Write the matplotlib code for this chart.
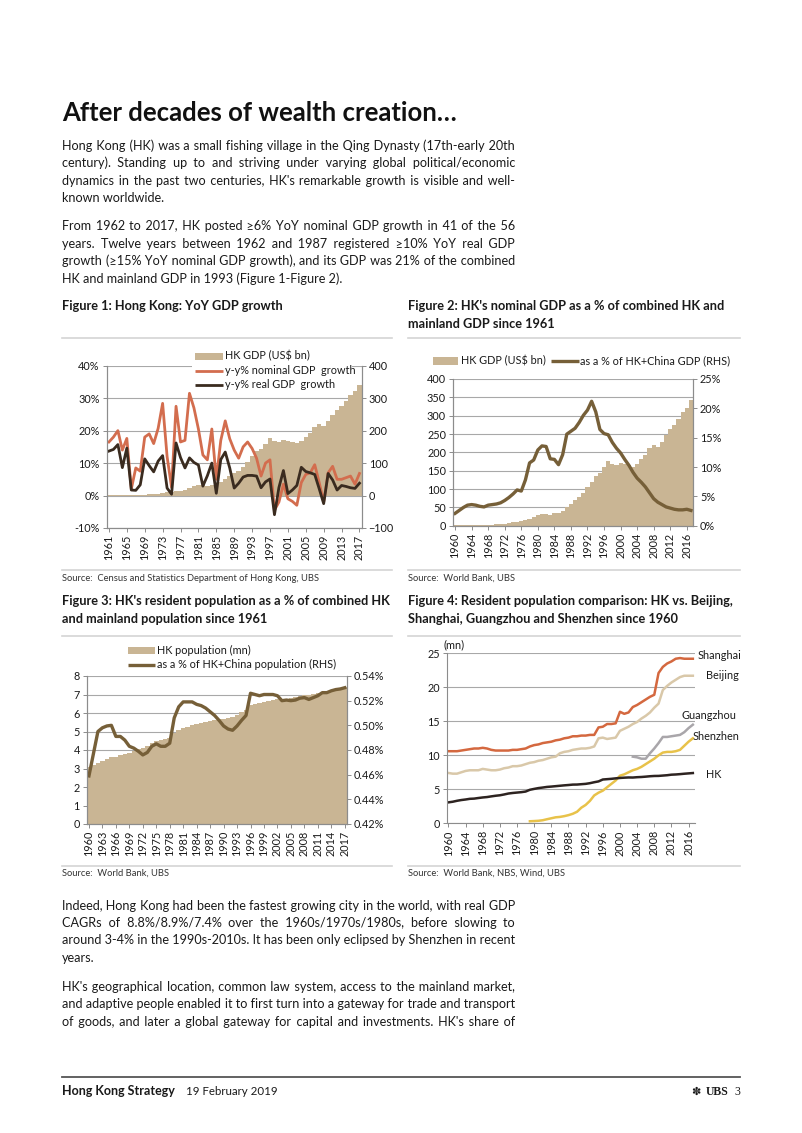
import matplotlib
matplotlib.use('Agg')
import matplotlib.pyplot as plt
from matplotlib.lines import Line2D
from matplotlib.patches import Rectangle
from matplotlib.ticker import FuncFormatter

nan = float('nan')

# ---------------- data ----------------
years = list(range(1960, 2018))
years_growth = list(range(1961, 2018))

hk_gdp_bn = [1.3, 1.3, 1.4, 1.7, 1.9, 2.2, 2.3, 2.4, 2.5, 2.9,
             3.8, 4.5, 5.7, 8.0, 9.5, 10.1, 12.9, 15.5, 18.1, 22.5,
             28.9, 31.0, 32.9, 29.9, 33.5, 35.7, 41.1, 50.6, 59.7, 68.8,
             76.9, 88.9, 104.3, 120.4, 135.8, 144.7, 159.7, 177.4, 168.9, 165.8,
             171.7, 169.4, 166.3, 161.4, 169.1, 181.6, 193.5, 211.6, 219.3, 214.0,
             228.6, 248.5, 262.6, 275.7, 291.5, 309.4, 320.9, 341.4]

nominal_growth = [16.5, 18.0, 20.0, 14.0, 17.6, 2.0, 8.5, 7.5, 18.0, 19.0,
                  16.0, 20.7, 28.4, 12.0, 2.5, 27.5, 16.5, 17.0, 31.5, 27.0,
                  20.5, 12.5, 11.0, 20.5, 5.0, 17.0, 23.0, 17.5, 14.0, 11.5,
                  15.0, 16.5, 14.5, 11.5, 6.0, 10.0, 11.0, -4.5, -2.0, 3.5,
                  -1.0, -1.8, -3.0, 4.0, 6.5, 7.0, 9.5, 4.0, -2.0, 7.0,
                  9.0, 5.0, 5.0, 5.5, 6.0, 3.5, 6.8]

real_growth = [13.7, 14.2, 15.7, 8.6, 14.6, 1.7, 1.6, 3.3, 11.3, 9.2,
               7.3, 10.6, 12.3, 2.3, 0.4, 16.2, 11.7, 8.5, 11.6, 10.2,
               9.4, 2.9, 6.1, 10.0, 0.7, 11.1, 13.4, 8.5, 2.3, 3.8,
               5.7, 6.2, 6.2, 6.0, 2.4, 4.2, 5.1, -5.9, 2.5, 7.7,
               0.6, 1.7, 3.1, 8.7, 7.4, 7.0, 6.5, 2.1, -2.5, 6.8,
               4.8, 1.7, 3.1, 2.8, 2.4, 2.2, 3.8]

gdp_share_pct = [2.1, 2.6, 3.1, 3.5, 3.6, 3.5, 3.3, 3.2, 3.5, 3.6,
                 3.7, 3.9, 4.3, 4.8, 5.4, 6.1, 5.9, 7.8, 10.7, 11.2,
                 12.9, 13.6, 13.5, 11.4, 11.3, 10.4, 12.1, 15.6, 16.1, 16.6,
                 17.6, 18.8, 19.7, 21.2, 19.4, 16.4, 15.7, 15.5, 14.2, 13.2,
                 12.4, 11.3, 10.3, 9.1, 8.1, 7.4, 6.6, 5.6, 4.6, 4.0,
                 3.6, 3.2, 3.0, 2.8, 2.7, 2.7, 2.8, 2.6]

hk_pop_mn = [3.08, 3.17, 3.31, 3.42, 3.50, 3.60, 3.63, 3.72, 3.80, 3.86,
             3.96, 4.05, 4.12, 4.24, 4.38, 4.46, 4.52, 4.58, 4.67, 4.93,
             5.06, 5.18, 5.26, 5.35, 5.40, 5.46, 5.52, 5.58, 5.63, 5.69,
             5.70, 5.75, 5.80, 5.90, 6.04, 6.16, 6.44, 6.49, 6.54, 6.61,
             6.67, 6.71, 6.74, 6.73, 6.78, 6.81, 6.86, 6.92, 6.96, 6.97,
             7.02, 7.07, 7.15, 7.18, 7.23, 7.29, 7.34, 7.39]

pop_share_pct = [0.459, 0.477, 0.495, 0.498, 0.4995, 0.500, 0.491, 0.491, 0.488, 0.483,
                 0.4815, 0.479, 0.476, 0.478, 0.483, 0.485, 0.483, 0.483, 0.4855, 0.506,
                 0.515, 0.519, 0.519, 0.519, 0.517, 0.516, 0.514, 0.511, 0.508, 0.504,
                 0.4995, 0.497, 0.496, 0.4995, 0.504, 0.508, 0.526, 0.525, 0.524, 0.525,
                 0.525, 0.525, 0.524, 0.520, 0.5205, 0.520, 0.5205, 0.522, 0.5225, 0.521,
                 0.5225, 0.524, 0.5265, 0.5265, 0.528, 0.529, 0.5295, 0.5305]

shanghai = [10.6, 10.6, 10.6, 10.7, 10.8, 10.9, 11.0, 11.0, 11.1, 11.0,
            10.8, 10.7, 10.7, 10.7, 10.7, 10.8, 10.8, 10.9, 11.0, 11.3,
            11.5, 11.6, 11.8, 11.9, 12.0, 12.2, 12.3, 12.5, 12.6, 12.8,
            12.8, 12.9, 12.9, 13.0, 13.0, 14.1, 14.2, 14.6, 14.6, 14.7,
            16.4, 16.1, 16.3, 17.1, 17.4, 17.8, 18.2, 18.6, 18.9, 22.1,
            23.0, 23.5, 23.8, 24.2, 24.3, 24.2, 24.2, 24.2]
beijing = [7.4, 7.3, 7.3, 7.5, 7.7, 7.8, 7.8, 7.8, 8.0, 7.9,
           7.8, 7.8, 7.9, 8.1, 8.2, 8.4, 8.4, 8.5, 8.7, 8.9,
           9.0, 9.2, 9.3, 9.5, 9.7, 9.8, 10.3, 10.5, 10.6, 10.8,
           10.9, 11.0, 11.0, 11.1, 11.3, 12.5, 12.6, 12.4, 12.5, 12.6,
           13.6, 13.9, 14.2, 14.6, 14.9, 15.4, 15.8, 16.3, 17.0, 17.6,
           19.6, 20.2, 20.7, 21.1, 21.5, 21.7, 21.7, 21.7]
guangzhou = [nan] * 43 + [9.8, 9.7, 9.5, 9.5, 10.3, 11.0, 11.8,
                          12.7, 12.7, 12.8, 12.9, 13.0, 13.4, 14.0, 14.5]
shenzhen = [nan] * 19 + [0.3,
            0.33, 0.37, 0.45, 0.6, 0.74, 0.88, 0.94, 1.05, 1.2, 1.4,
            1.7, 2.3, 2.7, 3.3, 4.1, 4.5, 4.8, 5.3, 5.8, 6.3,
            7.0, 7.2, 7.5, 7.8, 8.0, 8.3, 8.7, 9.1, 9.5, 10.0,
            10.4, 10.5, 10.5, 10.6, 10.8, 11.4, 12.0, 12.5]

# ---------------- style ----------------
W, H = 802, 1133
plt.rcParams['font.family'] = ['Lato', 'DejaVu Sans']
TAN = '#C9B594'
ORANGE = '#D36D4E'
DARK = '#3A2B1F'
OLIVE = '#765F38'
GRID = '#A8A8A8'
SPINE = '#8C8C8C'
TEXT = '#1A1A1A'
SEP = '#D4D4D4'
TICK = 7.8

fig = plt.figure(figsize=(W / 100, H / 100), dpi=100)
renderer = fig.canvas.get_renderer()


def fx(x):
    return x / W


def fy(y):
    return 1 - y / H


def rect(l, t, r, b):
    return [fx(l), fy(b), (r - l) / W, (b - t) / H]


def text_w(s, size, weight='normal'):
    t = fig.text(0, 0, s, fontsize=size, fontweight=weight)
    w = t.get_window_extent(renderer).width
    t.remove()
    return w


def fit_size(s, target, weight='normal'):
    return 10 * target / text_w(s, 10, weight)


def put(x, y, s, size, weight='normal', color=TEXT, ha='left', va='baseline', **kw):
    return fig.text(fx(x), fy(y), s, fontsize=size, fontweight=weight,
                    color=color, ha=ha, va=va, **kw)


HS = '\u200a'


def justify(line, x0, x1, y, size, last=False):
    if last:
        put(x0, y, line, size)
        return
    hs_w = (text_w('a' + HS * 20 + 'a', size) - text_w('aa', size)) / 20
    words = line.split(' ')
    n = len(words) - 1
    per = (x1 - x0 - text_w(line, size)) / n
    out = words[0]
    placed = 0
    for i in range(1, n + 1):
        k = int(round(per * i / hs_w)) - placed if hs_w > 0.05 else 0
        k = max(k, 0)
        placed += k
        out += ' ' + HS * k + words[i]
    put(x0, y, out, size)


def hline(x0, x1, y, color=SEP, lw=1.2):
    fig.add_artist(Line2D([fx(x0), fx(x1)], [fy(y), fy(y)], color=color, lw=lw,
                          transform=fig.transFigure))


def leg_patch(x0, x1, y, color):
    fig.add_artist(Rectangle((fx(x0), fy(y + 3.5)), (x1 - x0) / W, 7 / H,
                             facecolor=color, edgecolor='none',
                             transform=fig.transFigure, zorder=3))


def leg_line(x0, x1, y, color, lw):
    fig.add_artist(Line2D([fx(x0), fx(x1)], [fy(y), fy(y)], color=color, lw=lw,
                          transform=fig.transFigure, zorder=3, solid_capstyle='butt'))


def style(ax, right=True):
    for side in ['left', 'right', 'bottom']:
        ax.spines[side].set_color(SPINE)
        ax.spines[side].set_linewidth(0.8)
    ax.spines['top'].set_visible(False)
    if not right:
        ax.spines['right'].set_visible(False)
    ax.tick_params(labelsize=TICK, colors=TEXT, length=3, width=0.7, color=SPINE, pad=2)


# ---------------- page text ----------------
L, R = 62, 515
title = "After decades of wealth creation\u2026"
put(L, 121, title, fit_size(title, 396, 'bold'), weight='bold', color='#111111')

body_size = fit_size("and adaptive people enabled it to first turn into a gateway for trade and transport", 452)

p1 = ["Hong Kong (HK) was a small fishing village in the Qing Dynasty (17th-early 20th",
      "century). Standing up to and striving under varying global political/economic",
      "dynamics in the past two centuries, HK's remarkable growth is visible and well-",
      "known worldwide."]
p2 = ["From 1962 to 2017, HK posted \u22656% YoY nominal GDP growth in 41 of the 56",
      "years. Twelve years between 1962 and 1987 registered \u226510% YoY real GDP",
      "growth (\u226515% YoY nominal GDP growth), and its GDP was 21% of the combined",
      "HK and mainland GDP in 1993 (Figure 1-Figure 2)."]
p3 = ["Indeed, Hong Kong had been the fastest growing city in the world, with real GDP",
      "CAGRs of 8.8%/8.9%/7.4% over the 1960s/1970s/1980s, before slowing to",
      "around 3-4% in the 1990s-2010s. It has been only eclipsed by Shenzhen in recent",
      "years."]
p4 = ["HK's geographical location, common law system, access to the mainland market,",
      "and adaptive people enabled it to first turn into a gateway for trade and transport",
      "of goods, and later a global gateway for capital and investments. HK's share of"]

for lines, y0, last_left in [(p1, 150, True), (p2, 230.5, True), (p3, 909.5, True), (p4, 991, False)]:
    for i, ln in enumerate(lines):
        justify(ln, L, R, y0 + i * 17.4, body_size,
                last=(last_left and i == len(lines) - 1))

# figure titles
fsz = fit_size("Figure 3: HK's resident population as a % of combined HK", 329, 'bold')
put(62, 310, "Figure 1: Hong Kong: YoY GDP growth", fsz, 'bold')
put(408, 310, "Figure 2: HK's nominal GDP as a % of combined HK and", fsz, 'bold')
put(408, 328, "mainland GDP since 1961", fsz, 'bold')
put(62, 605, "Figure 3: HK's resident population as a % of combined HK", fsz, 'bold')
put(62, 623, "and mainland population since 1961", fsz, 'bold')
put(408, 605, "Figure 4: Resident population comparison: HK vs. Beijing,", fsz, 'bold')
put(408, 623, "Shanghai, Guangzhou and Shenzhen since 1960", fsz, 'bold')

hline(62, 392, 338); hline(408, 740, 338)
hline(62, 392, 570); hline(408, 740, 570)
hline(62, 392, 636); hline(408, 740, 636)
hline(62, 392, 866); hline(408, 740, 866)

ssz = fit_size("Source:  Census and Statistics Department of Hong Kong, UBS", 256)
put(62, 581, "Source:  Census and Statistics Department of Hong Kong, UBS", ssz, color='#333333')
put(408, 581, "Source:  World Bank, UBS", ssz, color='#333333')
put(62, 876, "Source:  World Bank, UBS", ssz, color='#333333')
put(408, 876, "Source:  World Bank, NBS, Wind, UBS", ssz, color='#333333')

# footer
hline(62, 740, 1077, color='#555555', lw=1.3)
put(62, 1095, "Hong Kong Strategy", fit_size("Hong Kong Strategy", 113, 'bold'), 'bold')
put(186, 1095, "19 February 2019", fit_size("19 February 2019", 91))
put(740, 1095, "3", 8.5, family=['Liberation Serif'], ha='right')
put(728, 1095, "UBS", 8.5, 'bold', family=['Liberation Serif'], ha='right')
put(701, 1095, "\u273D", 8, family=['DejaVu Sans'], ha='right')

pct0 = FuncFormatter(lambda v, p: f"{v:.0f}%")

# ---------------- Figure 1 ----------------
ax1 = fig.add_axes(rect(106.7, 365.7, 361.7, 528))
ax1.bar(years_growth, hk_gdp_bn[1:], width=1.0, color=TAN, linewidth=0)
ax1.set_ylim(-100, 400)
ax1.set_xlim(1960.5, 2017.5)
ax1.set_yticks(range(-100, 401, 100))
ax1.grid(axis='y', color=GRID, lw=0.8)
ax1.set_axisbelow(True)
ax1.set_xticks(range(1961, 2018, 4))
ax1.set_xticklabels([str(y) for y in range(1961, 2018, 4)], rotation=90)
ax1b = ax1.twinx()
ax1b.plot(years_growth, nominal_growth, color=ORANGE, lw=2.0)
ax1b.plot(years_growth, real_growth, color=DARK, lw=2.0)
ax1b.set_ylim(-10, 40)
ax1b.set_yticks(range(-10, 41, 10))
ax1b.yaxis.set_major_formatter(pct0)
ax1.yaxis.tick_right()
ax1b.yaxis.tick_left()
style(ax1); style(ax1b)

fig.add_artist(Rectangle((fx(192), fy(392)), 160 / W, 45 / H, facecolor='white',
                         edgecolor='none', transform=fig.transFigure, zorder=2))
leg_patch(195, 223, 356, TAN)
put(225, 356, "HK GDP (US$ bn)", TICK, va='center', zorder=4)
leg_line(195, 223, 370.5, ORANGE, 2.0)
put(225, 370.5, "y-y% nominal GDP  growth", TICK, va='center', zorder=4)
leg_line(195, 223, 384.5, DARK, 2.0)
put(225, 384.5, "y-y% real GDP  growth", TICK, va='center', zorder=4)

# ---------------- Figure 2 ----------------
ax2 = fig.add_axes(rect(453, 379, 693, 525.7))
ax2.bar(years, hk_gdp_bn, width=1.0, color=TAN, linewidth=0)
ax2.set_ylim(0, 400)
ax2.set_xlim(1959.5, 2017.5)
ax2.set_yticks(range(0, 401, 50))
ax2.grid(axis='y', color=GRID, lw=0.8)
ax2.set_axisbelow(True)
ax2.set_xticks(range(1960, 2017, 4))
ax2.set_xticklabels([str(y) for y in range(1960, 2017, 4)], rotation=90)
ax2b = ax2.twinx()
ax2b.plot(years, gdp_share_pct, color=OLIVE, lw=2.4)
ax2b.set_ylim(0, 25)
ax2b.set_yticks(range(0, 26, 5))
ax2b.yaxis.set_major_formatter(pct0)
style(ax2); style(ax2b)

leg_patch(433, 458, 361, TAN)
put(461, 361, "HK GDP (US$ bn)", TICK, va='center')
leg_line(551, 579, 361, OLIVE, 2.4)
put(580, 361, "as a % of HK+China GDP (RHS)", TICK, va='center')

# ---------------- Figure 3 ----------------
ax3 = fig.add_axes(rect(86.7, 676, 347, 824))
ax3.bar(years, hk_pop_mn, width=1.0, color=TAN, linewidth=0)
ax3.set_ylim(0, 8)
ax3.set_xlim(1959.5, 2017.5)
ax3.set_yticks(range(0, 9))
ax3.grid(axis='y', color=GRID, lw=0.8)
ax3.set_axisbelow(True)
ax3.set_xticks(range(1960, 2018, 3))
ax3.set_xticklabels([str(y) for y in range(1960, 2018, 3)], rotation=90)
ax3b = ax3.twinx()
ax3b.plot(years, pop_share_pct, color=OLIVE, lw=2.4)
ax3b.set_ylim(0.42, 0.54)
ax3b.set_yticks([0.42, 0.44, 0.46, 0.48, 0.50, 0.52, 0.54])
ax3b.yaxis.set_major_formatter(FuncFormatter(lambda v, p: f"{v:.2f}%"))
style(ax3); style(ax3b)

leg_patch(128, 155, 650, TAN)
put(157, 650, "HK population (mn)", TICK, va='center')
leg_line(128, 155, 664.5, OLIVE, 2.4)
put(157, 664.5, "as a % of HK+China population (RHS)", TICK, va='center')

# ---------------- Figure 4 ----------------
ax4 = fig.add_axes(rect(446.7, 653.3, 695, 823.3))
ax4.plot(years, shanghai, color='#D4683F', lw=1.8)
ax4.plot(years, beijing, color='#D9C8A9', lw=1.8)
ax4.plot(years, guangzhou, color='#A9A6AA', lw=1.8)
ax4.plot(years, shenzhen, color='#E8C24A', lw=1.8)
ax4.plot(years, hk_pop_mn, color='#2D2320', lw=1.8)
ax4.set_ylim(0, 25)
ax4.set_xlim(1959.6, 2017.5)
ax4.set_yticks(range(0, 26, 5))
ax4.grid(axis='y', color=GRID, lw=0.8)
ax4.set_axisbelow(True)
ax4.set_xticks(range(1960, 2017, 4))
ax4.set_xticklabels([str(y) for y in range(1960, 2017, 4)], rotation=90)
style(ax4, right=False)

put(454, 644.5, "(mn)", TICK, va='center', ha='center')
put(697.5, 655.5, "Shanghai", TICK, va='center')
put(706, 675.5, "Beijing", TICK, va='center')
put(681, 715.5, "Guangzhou", TICK, va='center')
put(693, 737, "Shenzhen", TICK, va='center')
put(706, 774, "HK", TICK, va='center')

fig.savefig('out.png', dpi=100, facecolor='white')
